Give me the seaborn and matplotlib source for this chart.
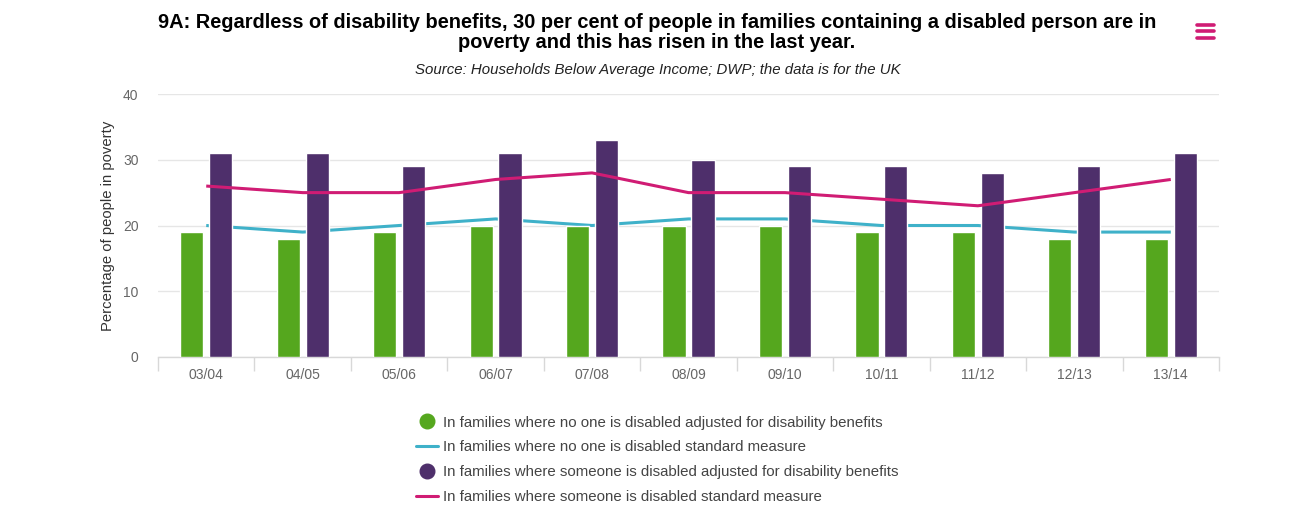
import numpy as np
import pandas as pd
import seaborn as sns
import matplotlib.pyplot as plt
from matplotlib.lines import Line2D

years = ["03/04", "04/05", "05/06", "06/07", "07/08", "08/09", "09/10", "10/11", "11/12", "12/13", "13/14"]
no_one_adjusted = [19, 18, 19, 20, 20, 20, 20, 19, 19, 18, 18]
no_one_standard = [20, 19, 20, 21, 20, 21, 21, 20, 20, 19, 19]
someone_adjusted = [31, 31, 29, 31, 33, 30, 29, 29, 28, 29, 31]
someone_standard = [26, 25, 25, 27, 28, 25, 25, 24, 23, 25, 27]

labels = ["In families where no one is disabled adjusted for disability benefits",
          "In families where no one is disabled standard measure",
          "In families where someone is disabled adjusted for disability benefits",
          "In families where someone is disabled standard measure"]
green, teal, purple, pink = "#55a71e", "#3fb1c9", "#4e2f6b", "#d01c74"

sns.set_theme(style="white")
plt.rcParams['font.family'] = ['Liberation Sans', 'DejaVu Sans']

W, H = 1306, 513
fig = plt.figure(figsize=(W / 100, H / 100), dpi=100)
ax = fig.add_axes([158 / W, 1 - 357 / H, (1219 - 158) / W, (357 - 94) / H])

df = pd.DataFrame({
    "year": years * 2,
    "value": no_one_adjusted + someone_adjusted,
    "group": [labels[0]] * len(years) + [labels[2]] * len(years),
})
sns.barplot(data=df, x="year", y="value", hue="group", hue_order=[labels[0], labels[2]],
            palette=[green, purple], width=0.6, gap=0.2, saturation=1, legend=False,
            zorder=3, ax=ax)

pos = np.arange(len(years))
sns.lineplot(x=pos, y=no_one_standard, color=teal, linewidth=2.2, zorder=2, solid_capstyle="butt", ax=ax)
sns.lineplot(x=pos, y=someone_standard, color=pink, linewidth=2.2, zorder=4, solid_capstyle="butt", ax=ax)

ax.set_xlim(-0.5, len(years) - 0.5)
ax.set_ylim(0, 40)
ax.set_yticks([0, 10, 20, 30, 40])
ax.grid(axis="y", color="#e6e6e6", linewidth=1)
ax.set_axisbelow(True)
sns.despine(ax=ax, left=True, top=True, right=True)
ax.spines["bottom"].set_color("#d8d8d8")
ax.spines["bottom"].set_linewidth(1)

# ticks sit between the categories
ax.set_xticks(np.arange(-0.5, len(years)), minor=True)
ax.tick_params(axis="x", which="minor", length=10, width=1, color="#d8d8d8", bottom=True)
ax.tick_params(axis="x", which="major", length=0, pad=8, labelsize=10, labelcolor="#666666")
ax.tick_params(axis="y", length=0, pad=14, labelsize=10, labelcolor="#666666")
ax.set_xlabel("")
ax.set_ylabel("Percentage of people in poverty", fontsize=10.76, color="#333333", labelpad=6)

fig.text(657 / W, 1 - 22.5 / H, "9A: Regardless of disability benefits, 30 per cent of people in families containing a disabled person are in",
         ha="center", va="center", fontsize=14.4, fontweight="bold", color="black")
fig.text(657 / W, 1 - 42 / H, "poverty and this has risen in the last year.",
         ha="center", va="center", fontsize=14.4, fontweight="bold", color="black")
fig.text(658 / W, 1 - 70 / H, "Source: Households Below Average Income; DWP; the data is for the UK",
         ha="center", va="center", fontsize=10.85, style="italic", color="#222222")

# menu icon
for y in [24.5, 31, 37.5]:
    fig.add_artist(Line2D([1197 / W, 1214 / W], [1 - y / H] * 2, color=pink, linewidth=2.6,
                          solid_capstyle="round"))

handles = [
    Line2D([], [], linestyle="none", marker="o", markersize=10.5, color=green),
    Line2D([], [], color=teal, linewidth=2.2),
    Line2D([], [], linestyle="none", marker="o", markersize=10.5, color=purple),
    Line2D([], [], color=pink, linewidth=2.2),
]
fig.legend(handles, labels, loc="upper left", bbox_to_anchor=(402.5 / W, 1 - 402 / H), frameon=False,
           fontsize=10.8, labelcolor="#444444", handlelength=1.47, handletextpad=0.33,
           labelspacing=0.72, borderpad=0.4)

fig.savefig("out.png", dpi=100)
